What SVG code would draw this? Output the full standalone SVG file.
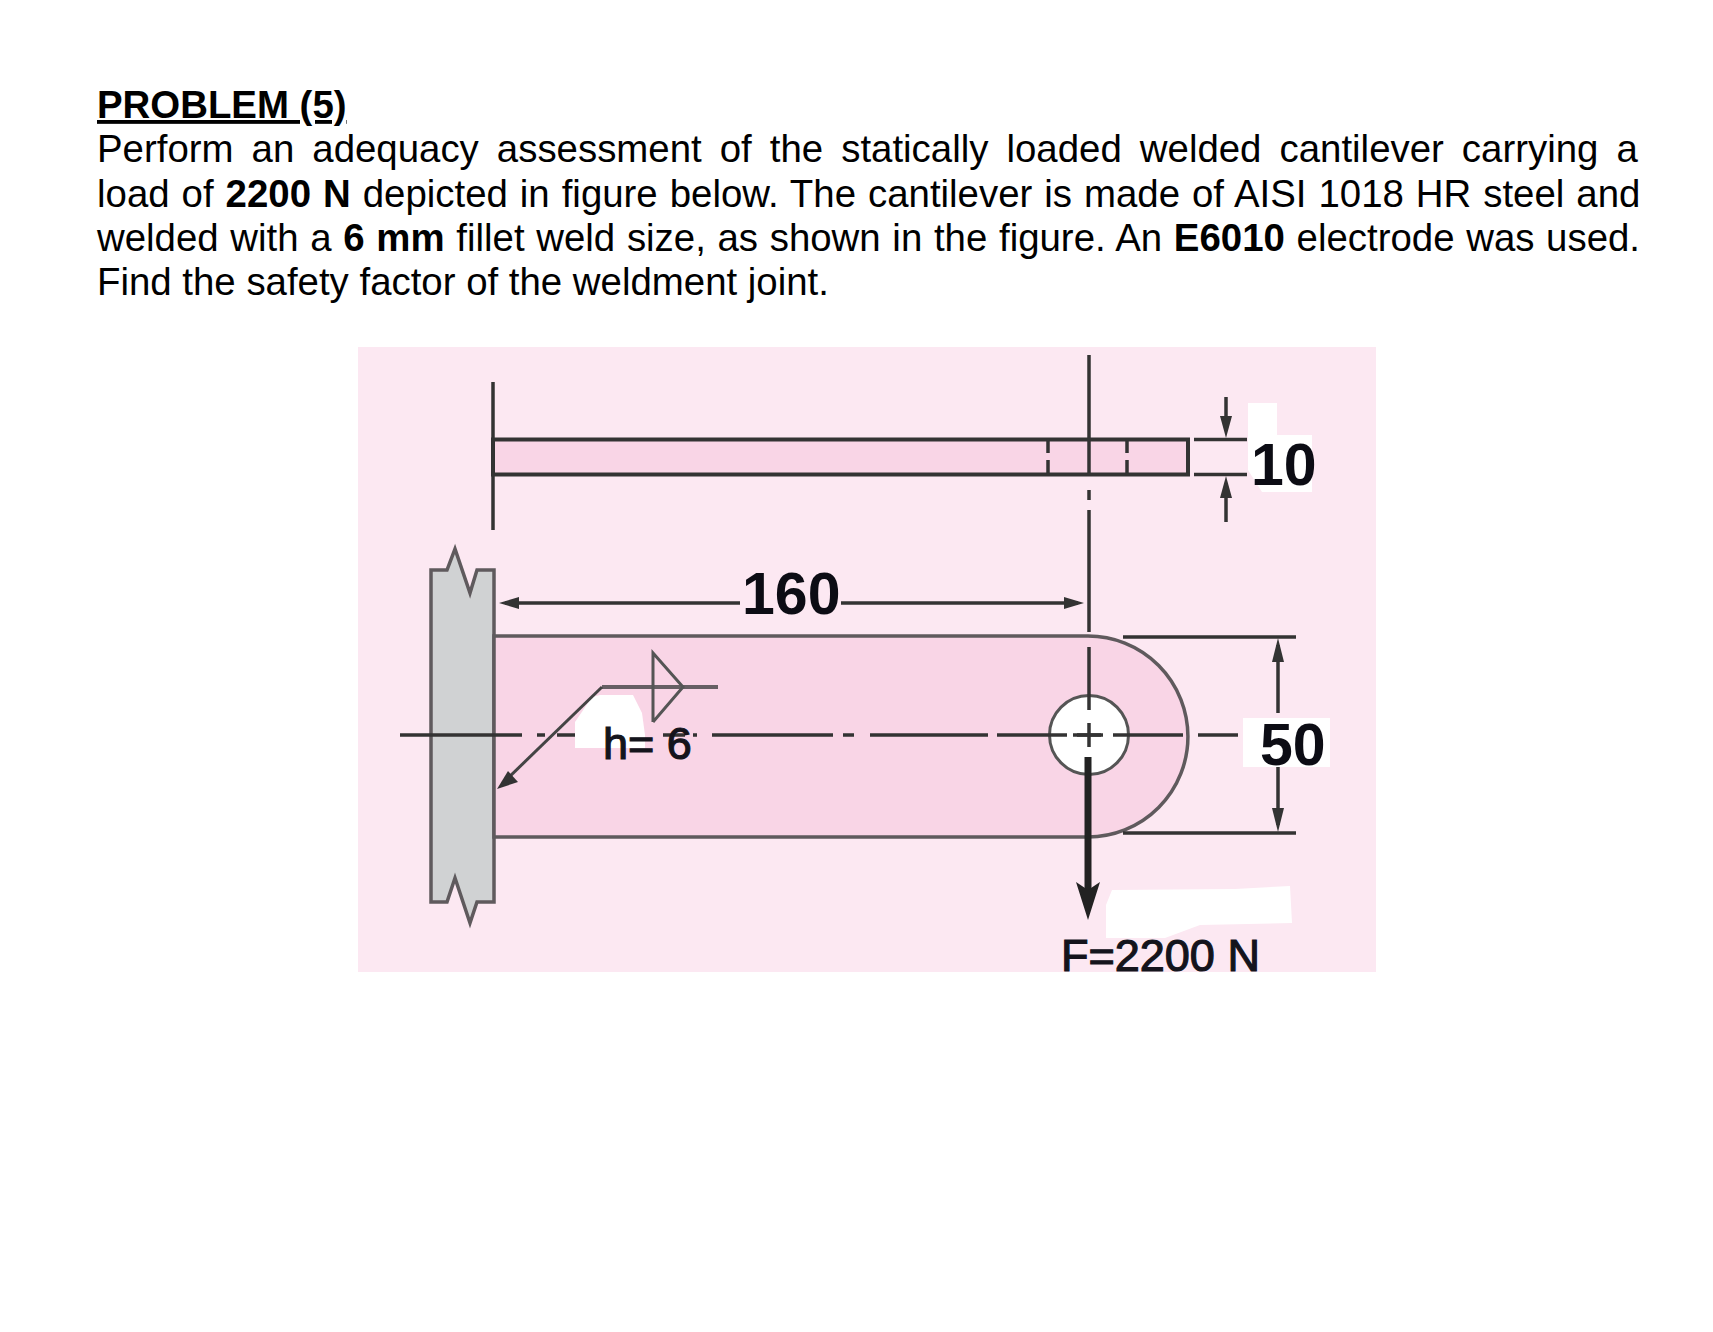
<svg xmlns="http://www.w3.org/2000/svg" width="1713" height="1332" viewBox="0 0 1713 1332">
<style>
.t{font-family:"Liberation Sans",Arial,sans-serif;font-size:38.4px;fill:#000}
.b{font-weight:700}
.ln{fill:none;stroke:#333;stroke-width:3.5}
.ol{stroke:#5f5a5d;stroke-width:3.5}
.dim{font-family:"Liberation Sans",Arial,sans-serif;font-weight:700;font-size:59px;fill:#0c0c14}
.lab{font-family:"Liberation Sans",Arial,sans-serif;font-size:45px;fill:#14141c;stroke:#14141c;stroke-width:1.2}
.hd{fill:#333;stroke:none}
.wh{fill:#fff;stroke:none}
</style>
<rect width="1713" height="1332" fill="#fff"/>
<g id="problem-text">
<text class="t b" x="97" y="118" text-decoration="underline" style="text-decoration-skip-ink:none">PROBLEM (5)</text>
<text class="t" x="97" y="162" word-spacing="7.38">Perform an adequacy assessment of the statically loaded welded cantilever carrying a</text>
<text class="t" x="97" y="207" word-spacing="1.32">load of <tspan class="b">2200 N</tspan> depicted in figure below. The cantilever is made of AISI 1018 HR steel and</text>
<text class="t" x="97" y="251" word-spacing="1.01">welded with a <tspan class="b">6 mm</tspan> fillet weld size, as shown in the figure. An <tspan class="b">E6010</tspan> electrode was used.</text>
<text class="t" x="97" y="295">Find the safety factor of the weldment joint.</text>
</g>
<g id="figure-background"><rect x="358" y="347" width="1018" height="625" fill="#fce8f2"/></g>
<g id="top-view">
<rect x="493" y="439.500" width="695" height="35" fill="#f9d5e6" stroke="#333" stroke-width="4"/>
<path class="ln" d="M493 382V530M1048 439V453M1048 460V474M1127 439V453M1127 460V474"/>
</g>
<g id="wall">
<path d="M431 570H447L455 549L470 593L477 570H494V902H477L470 923L455 878L447 902H431Z" fill="#d0d2d3" class="ol"/>
</g>
<g id="lug">
<path d="M494 636H1088A100 100.500 0 0 1 1088 837H494Z" fill="#f9d5e6" class="ol"/>
<circle cx="1089" cy="735" r="39.500" fill="#fff" stroke="#555" stroke-width="3"/>
</g>
<g id="patches">
<path class="wh" d="M592 697L600 695H633L642 713L645 735V748H575V722Z"/>
<path class="wh" d="M1248 403H1277V435H1312V492H1262L1248 470Z"/>
<rect class="wh" x="1243" y="718" width="87" height="49"/>
<path class="wh" d="M1112 890L1235 889L1290 886L1292 923L1200 925L1165 938H1106V905Z"/>
</g>
<g id="connectors">
<path class="ln" d="M1089 355V474M1089 490V500M1089 510V632M1089 647V710M1089 723V747M1077 735H1101"/>
<path class="ln" d="M400 735H522M537 735H545M557 735H575M663 735H685M693 735H697M712 735H833M843 735H854M870 735H988M997 735H1067M1073 735H1103M1113 735H1183M1198 735H1238"/>
<path class="ln" d="M505 603H740M841 603H1078"/>
<path class="hd" d="M499 603L519 597V609Z"/>
<path class="hd" d="M1084 603L1064 597V609Z"/>
<path class="ln" d="M1194 439.500H1247M1194 474.500H1247M1226 397V425M1226 488V522"/>
<path class="hd" d="M1226 438L1220 416H1232Z"/>
<path class="hd" d="M1226 476L1220 498H1232Z"/>
<path class="ln" d="M1123 637H1296M1123 833H1296M1278 645V713M1278 767V825"/>
<path class="hd" d="M1278 638L1272 662H1284Z"/>
<path class="hd" d="M1278 832L1272 808H1284Z"/>
<path fill="none" stroke="#675f64" stroke-width="4" d="M602 687H718"/>
<path fill="none" stroke="#555" stroke-width="3" d="M653 722V653L683 687L653 722"/>
<path fill="none" stroke="#444" stroke-width="3" d="M602 687L505 781"/>
<path class="hd" d="M497 789L508 771L518 782Z"/>
<path d="M1088 757V890" fill="none" stroke="#222" stroke-width="7"/>
<path d="M1088 920L1076 882L1088 890L1100 882Z" fill="#222"/>
</g>
<g id="labels">
<text class="dim" x="742" y="614">160</text>
<text class="dim" x="1251" y="485">10</text>
<text class="dim" x="1260" y="765">50</text>
<text class="lab" x="603" y="759">h= 6</text>
<text class="lab" x="1061" y="971">F=2200 N</text>
</g>
</svg>
